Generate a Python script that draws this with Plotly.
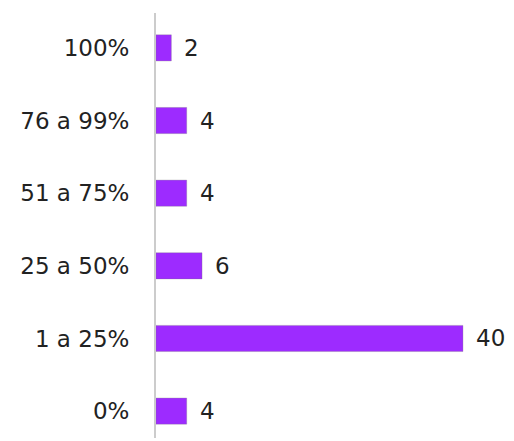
import plotly.graph_objects as go

categorias = ["0%", "1 a 25%", "25 a 50%", "51 a 75%", "76 a 99%", "100%"]
valores = [4, 40, 6, 4, 4, 2]

roxo = "#9d2bff"
texto = "#222222"
fonte = "DejaVu Sans"

fig = go.Figure()
fig.add_trace(go.Bar(
    x=valores, y=categorias, orientation="h",
    marker=dict(color=roxo, line=dict(color="rgba(120,120,120,0.5)", width=0.6)),
    width=0.36, hoverinfo="skip"
))

for c, v in zip(categorias, valores):
    fig.add_annotation(x=v, y=c, text=str(v), showarrow=False,
                       xanchor="left", xshift=11, font=dict(family=fonte, size=23, color=texto))

fig.update_layout(
    width=514, height=441, autosize=False,
    paper_bgcolor="white", plot_bgcolor="white",
    font=dict(family=fonte, size=23, color=texto),
    margin=dict(l=148, r=13, t=5, b=11), showlegend=False,
    xaxis=dict(range=[0, 46], visible=False, fixedrange=True),
    yaxis=dict(range=[-0.37, 5.48], showline=True, linecolor="#cccccc", linewidth=2,
               showgrid=False, zeroline=False, ticks="outside", ticklen=20,
               tickcolor="rgba(0,0,0,0)", tickfont=dict(family=fonte, size=23, color=texto)),
)

fig.write_html("out.html")
